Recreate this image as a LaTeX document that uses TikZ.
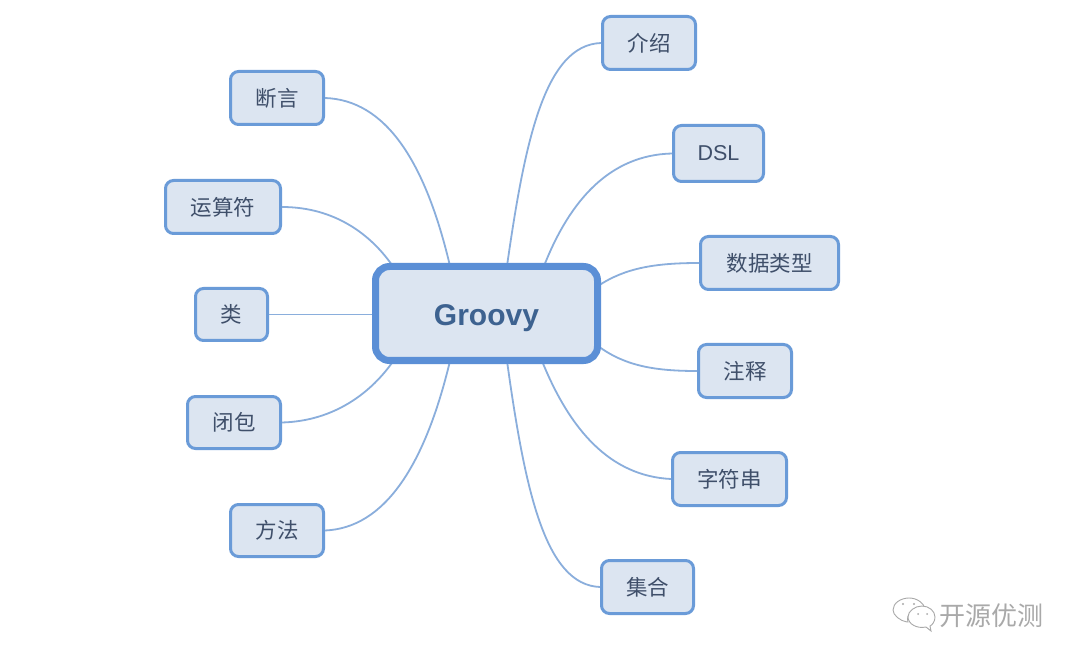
\documentclass[tikz,border=0pt]{standalone}
\usepackage{fontspec}
\setmainfont{Liberation Sans}
\newfontfamily\cjk{Noto Sans CJK SC}
\definecolor{edgeblue}{HTML}{8AAEDC}
\definecolor{boxblue}{HTML}{6A9BD8}
\definecolor{rootblue}{HTML}{5B8FD6}
\definecolor{fillblue}{HTML}{DCE5F1}
\definecolor{inkleaf}{HTML}{3F4F6A}
\definecolor{inkroot}{HTML}{3D6290}
\definecolor{wm}{HTML}{A9A9A9}
\tikzset{
  leaf/.style={draw=boxblue,fill=fillblue,line width=3pt,rounded corners=8pt,inner sep=0pt,
    text=inkleaf,font=\cjk\fontsize{21.5}{24}\selectfont,anchor=north west},
  rootbox/.style={draw=rootblue,fill=fillblue,line width=7pt,rounded corners=14pt,inner sep=0pt,
    text=inkroot,font=\bfseries\fontsize{30}{34}\selectfont},
  link/.style={draw=edgeblue,line width=1.8pt},
  wmline/.style={draw=wm,line width=0.9pt,fill=white},
}
\newcommand{\leafnode}[6]{\node[leaf,minimum width=#4pt-2pt,minimum height=#5pt-2pt] (#1) at (#2,#3) {#6};}
\begin{document}
\begin{tikzpicture}[x=1pt,y=-1pt]
\useasboundingbox (0,0) rectangle (1080,663);
\fill[white] (0,0) rectangle (1080,663);
% root anchor points
\coordinate (rootc) at (486.5,313.5);
\coordinate (tA) at (450,266);
\coordinate (tB) at (394,268);
\coordinate (tC) at (375,314);
\coordinate (tD) at (394,360);
\coordinate (tE) at (450,361);
\coordinate (tF) at (507,266);
\coordinate (tG) at (544,266);
\coordinate (tH) at (598,286);
\coordinate (tI) at (598,346);
\coordinate (tJ) at (542,361);
\coordinate (tK) at (507,361);
% leaves
\leafnode{jieshao}{601}{15}{95}{55}{介绍}
\leafnode{dsl}{672}{124}{92}{58}{\fontspec{Liberation Sans}DSL}
\leafnode{shuju}{699}{235}{140}{55}{数据类型}
\leafnode{zhushi}{697}{343}{95}{55}{注释}
\leafnode{zifu}{671}{451}{116}{55}{字符串}
\leafnode{jihe}{600}{559}{94}{55}{集合}
\leafnode{duanyan}{229}{70}{95}{55}{断言}
\leafnode{yunsuan}{164}{179}{117}{55}{运算符}
\leafnode{lei}{194}{287}{74}{54}{类}
\leafnode{bibao}{186}{395}{95}{54}{闭包}
\leafnode{fangfa}{229}{503}{95}{54}{方法}
% connectors
\path[link] (duanyan.east) .. controls (385,100) and (425,160) .. (tA);
\path[link] (yunsuan.east) .. controls (335,207) and (372,235) .. (tB);
\path[link] (lei.east) -- (tC |- lei.east);
\path[link] (bibao.east) .. controls (335,421) and (372,392) .. (tD);
\path[link] (fangfa.east) .. controls (385,528) and (425,465) .. (tE);
\path[link] (jieshao.west) .. controls (545,45) and (525,140) .. (tF);
\path[link] (dsl.west) .. controls (610,155) and (570,200) .. (tG);
\path[link] (shuju.west) .. controls (655,263) and (625,268) .. (tH);
\path[link] (zhushi.west) .. controls (655,371) and (625,366) .. (tI);
\path[link] (zifu.west) .. controls (610,476) and (570,430) .. (tJ);
\path[link] (jihe.west) .. controls (545,585) and (525,490) .. (tK);
% root
\node[rootbox,minimum width=222pt,minimum height=94pt] (root) at (rootc) {\raisebox{-12.5pt}[0pt][0pt]{Groovy}};
% watermark
\path[wmline] (907,622) .. controls (900,621) and (893,615) .. (893,610) .. controls (893,603) and (901,598) .. (909,598) .. controls (917,598) and (924,603) .. (925,609) .. controls (915,607) and (905,614) .. (908,622) -- cycle;
\path[wmline] (926,627) .. controls (917,629) and (908,624) .. (908,617) .. controls (908,611) and (915,606) .. (922,606) .. controls (929,606) and (935,611) .. (935,617) .. controls (935,622) and (932,625) .. (930,626) -- (931,631) -- cycle;
\fill[wm] (903,604) circle (1.2) (914,604) circle (1.2) (918,614) circle (1) (927,614) circle (1);
\node[text=wm,font=\cjk\fontsize{26}{28}\selectfont,inner sep=0pt] (wmark) at (991.5,616) {开源优测};
\end{tikzpicture}
\end{document}
